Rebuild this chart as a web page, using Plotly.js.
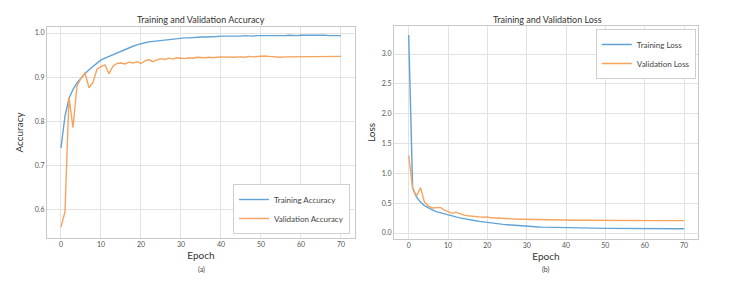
<!DOCTYPE html>
<html>
<head>
<meta charset="utf-8">
<script src="https://cdn.plot.ly/plotly-3.0.1.min.js"></script>
<style>html,body{margin:0;padding:0;background:#fff;}#chart{width:741px;height:305px;}</style>
</head>
<body>
<div id="chart"></div>
<script>
const epochs = Array.from({length: 71}, (_, i) => i);

const trainAcc = [0.740,0.812,0.852,0.872,0.887,0.898,0.908,0.917,0.925,0.932,
  0.939,0.943,0.947,0.951,0.955,0.959,0.963,0.966,0.970,0.973,
  0.976,0.978,0.980,0.981,0.983,0.984,0.985,0.986,0.987,0.988,
  0.988,0.989,0.989,0.990,0.990,0.991,0.991,0.991,0.992,0.992,
  0.993,0.993,0.992,0.993,0.993,0.993,0.994,0.993,0.993,0.994,
  0.994,0.993,0.994,0.994,0.994,0.994,0.994,0.995,0.994,0.994,
  0.995,0.995,0.995,0.995,0.996,0.996,0.995,0.994,0.994,0.994,0.994];

const valAcc = [0.561,0.595,0.855,0.786,0.880,0.897,0.910,0.876,0.888,0.918,
  0.924,0.928,0.908,0.925,0.931,0.932,0.930,0.934,0.932,0.935,
  0.931,0.937,0.940,0.935,0.939,0.942,0.940,0.943,0.941,0.944,
  0.943,0.942,0.944,0.943,0.945,0.944,0.944,0.945,0.944,0.945,
  0.946,0.945,0.946,0.945,0.946,0.946,0.945,0.947,0.946,0.947,
  0.948,0.948,0.947,0.946,0.946,0.945,0.946,0.946,0.947,0.946,
  0.946,0.947,0.946,0.947,0.947,0.946,0.947,0.947,0.947,0.947,0.947];

const trainLoss = [3.32,0.75,0.60,0.52,0.46,0.42,0.39,0.36,0.34,0.32,
  0.30,0.285,0.27,0.255,0.24,0.228,0.215,0.205,0.195,0.185,
  0.175,0.167,0.160,0.152,0.145,0.139,0.133,0.128,0.123,0.118,
  0.112,0.108,0.105,0.102,0.099,0.097,0.095,0.093,0.091,0.089,
  0.087,0.086,0.085,0.084,0.083,0.082,0.081,0.080,0.080,0.079,
  0.078,0.078,0.077,0.077,0.076,0.076,0.075,0.075,0.075,0.074,
  0.074,0.074,0.073,0.073,0.073,0.073,0.072,0.072,0.072,0.072,0.072];

const valLoss = [1.30,0.75,0.62,0.76,0.52,0.45,0.42,0.43,0.43,0.39,
  0.36,0.33,0.35,0.32,0.30,0.29,0.28,0.275,0.27,0.265,
  0.27,0.255,0.25,0.248,0.245,0.240,0.237,0.235,0.232,0.230,
  0.228,0.226,0.225,0.224,0.222,0.221,0.220,0.219,0.218,0.217,
  0.216,0.215,0.215,0.214,0.214,0.213,0.213,0.212,0.212,0.212,
  0.211,0.211,0.211,0.210,0.210,0.210,0.210,0.209,0.209,0.209,
  0.209,0.209,0.208,0.208,0.208,0.208,0.208,0.208,0.208,0.208,0.208];

const xTicks = [0,10,20,30,40,50,60,70];
const accTicks = [0.6,0.7,0.8,0.9,1.0];
const lossTicks = [0.0,0.5,1.0,1.5,2.0,2.5,3.0];

const BLUE = '#62a3d6';
const ORANGE = '#f6a35e';
const FONT = 'Lato, "Open Sans", sans-serif';

const traces = [
  {x: epochs, y: trainAcc, type: 'scatter', mode: 'lines', name: 'Training Accuracy',
   line: {color: BLUE, width: 1.4}, xaxis: 'x', yaxis: 'y', legend: 'legend'},
  {x: epochs, y: valAcc, type: 'scatter', mode: 'lines', name: 'Validation Accuracy',
   line: {color: ORANGE, width: 1.4}, xaxis: 'x', yaxis: 'y', legend: 'legend'},
  {x: epochs, y: trainLoss, type: 'scatter', mode: 'lines', name: 'Training Loss',
   line: {color: BLUE, width: 1.4}, xaxis: 'x2', yaxis: 'y2', legend: 'legend2'},
  {x: epochs, y: valLoss, type: 'scatter', mode: 'lines', name: 'Validation Loss',
   line: {color: ORANGE, width: 1.4}, xaxis: 'x2', yaxis: 'y2', legend: 'legend2'}
];

const axBase = {
  showgrid: true, gridcolor: '#e2e2e2', gridwidth: 1,
  showline: true, linecolor: '#c8c8c8', linewidth: 1, mirror: true,
  zeroline: false, ticks: '', tickfont: {size: 7, color: '#555', family: FONT},
  fixedrange: true
};

const layout = {
  width: 741, height: 305,
  margin: {l: 0, r: 0, t: 0, b: 0},
  paper_bgcolor: '#fff', plot_bgcolor: '#fff',
  font: {family: FONT, color: '#333'},
  showlegend: true,
  xaxis: Object.assign({}, axBase, {
    domain: [0.0634, 0.479], range: [-3.5, 73.5], tickvals: xTicks,
    title: {text: 'Epoch', font: {size: 10, color: '#333', family: FONT}, standoff: 4},
    anchor: 'y'
  }),
  yaxis: Object.assign({}, axBase, {
    domain: [0.2197, 0.9115], range: [0.536, 1.0136], tickvals: accTicks, tickformat: '.1f',
    title: {text: 'Accuracy', font: {size: 10, color: '#333', family: FONT}, standoff: 9},
    anchor: 'x'
  }),
  xaxis2: Object.assign({}, axBase, {
    domain: [0.5317, 0.942], range: [-3.74, 73.56], tickvals: xTicks,
    title: {text: 'Epoch', font: {size: 10, color: '#333', family: FONT}, standoff: 4},
    anchor: 'y2'
  }),
  yaxis2: Object.assign({}, axBase, {
    domain: [0.2164, 0.9148], range: [-0.1, 3.47], tickvals: lossTicks, tickformat: '.1f',
    title: {text: 'Loss', font: {size: 10, color: '#333', family: FONT}, standoff: 4},
    anchor: 'x2'
  }),
  legend: {
    x: 0.4723, y: (305 - 234) / 305, xanchor: 'right', yanchor: 'bottom',
    bgcolor: '#fff', bordercolor: '#cfcfcf', borderwidth: 1,
    font: {size: 8, color: '#444', family: FONT}, tracegroupgap: 0,
    itemwidth: 30
  },
  legend2: {
    x: 0.939, y: (305 - 29) / 305, xanchor: 'right', yanchor: 'top',
    bgcolor: '#fff', bordercolor: '#cfcfcf', borderwidth: 1,
    font: {size: 8, color: '#444', family: FONT}, tracegroupgap: 0,
    itemwidth: 30
  },
  annotations: [
    {text: 'Training and Validation Accuracy', xref: 'paper', yref: 'paper',
     x: 0.2712, y: (305 - 19) / 305, xanchor: 'center', yanchor: 'middle', showarrow: false,
     font: {size: 9, color: '#333', family: FONT}},
    {text: 'Training and Validation Loss', xref: 'paper', yref: 'paper',
     x: 547 / 741, y: (305 - 19) / 305, xanchor: 'center', yanchor: 'middle', showarrow: false,
     font: {size: 9, color: '#333', family: FONT}},
    {text: '(a)', xref: 'paper', yref: 'paper',
     x: 201 / 741, y: (305 - 269) / 305, xanchor: 'center', yanchor: 'middle', showarrow: false,
     font: {size: 7, color: '#444', family: FONT}},
    {text: '(b)', xref: 'paper', yref: 'paper',
     x: 546 / 741, y: (305 - 269) / 305, xanchor: 'center', yanchor: 'middle', showarrow: false,
     font: {size: 7, color: '#444', family: FONT}}
  ]
};

Plotly.newPlot('chart', traces, layout, {staticPlot: true, displayModeBar: false});
</script>
</body>
</html>
